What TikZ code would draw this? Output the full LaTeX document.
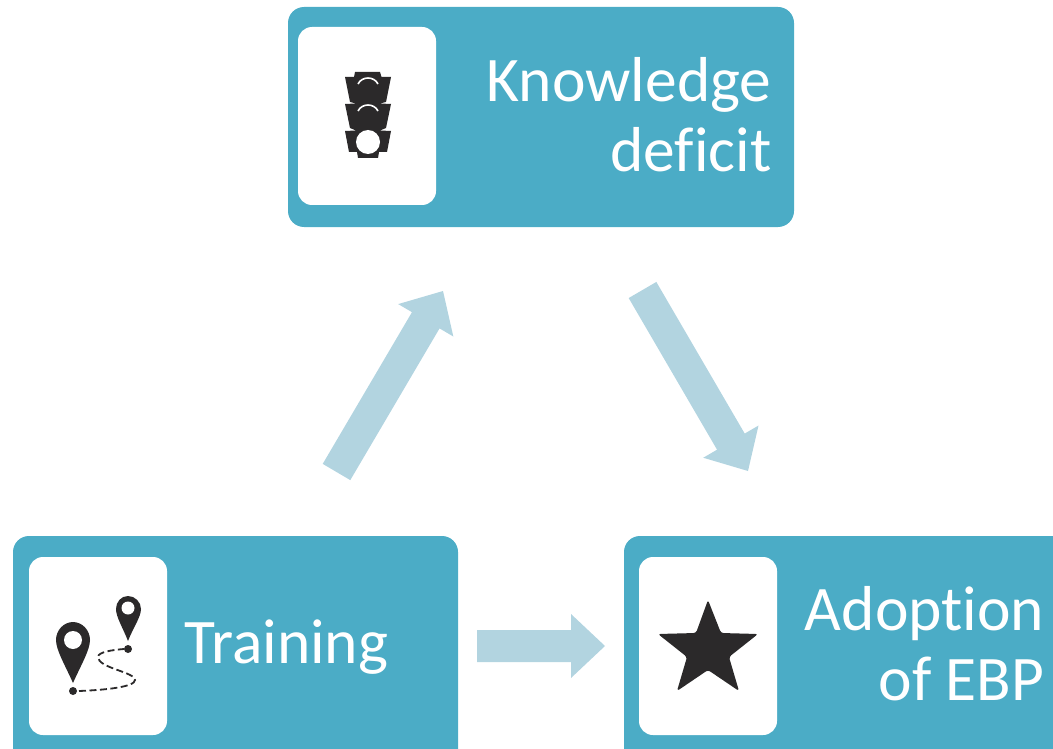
\documentclass[tikz,border=0pt]{standalone}
\usepackage{fontspec}
\setmainfont[Ligatures=NoCommon]{Carlito}
\usetikzlibrary{calc}
\definecolor{teal}{HTML}{4BACC6}
\definecolor{pale}{HTML}{B2D4E0}
\definecolor{ink}{HTML}{2B292A}
\tikzset{
  card/.style={fill=teal,rounded corners=16pt,draw=none},
  tile/.style={fill=white,rounded corners=14pt,draw=none},
  label/.style={text=white,font=\fontsize{63.5}{70}\selectfont,inner sep=0pt,align=right},
  icon/.style={fill=ink,draw=none},
  hole/.style={fill=white,draw=none},
}
\newcommand{\blockarrow}[2]{%
  \fill[pale] ($(#1)!16pt!90:(#2)$) -- ($(#1)!16pt!-90:(#2)$)
    -- ($($(#2)!34pt!(#1)$)!16pt!90:(#1)$)
    -- ($($(#2)!34pt!(#1)$)!32pt!90:(#1)$)
    -- (#2)
    -- ($($(#2)!34pt!(#1)$)!32pt!-90:(#1)$)
    -- ($($(#2)!34pt!(#1)$)!16pt!-90:(#1)$) -- cycle;}
\begin{document}
\begin{tikzpicture}[x=1pt,y=-1pt]
\useasboundingbox (0,0) rectangle (1053,749);
\clip (0,0) rectangle (1053,749);
% cards
\fill[card] (288,7) rectangle (794,227);
\fill[card] (13,536) rectangle (458,770);
\fill[card] (624,536) rectangle (1090,770);
\fill[tile] (298,27) rectangle (436,205);
\fill[tile] (29,557) rectangle (167,735);
\fill[tile] (639,557) rectangle (777,735);
% labels
\node[label,anchor=east] (kd) at (771.5,115) {Knowledge\\deficit};
\node[label,anchor=west] (tr) at (184,647.5) {Training};
\node[label,anchor=east] (ad) at (1044.5,644) {Adoption\\of EBP};
% arrows
\coordinate (a1) at (336.5,472); \coordinate (b1) at (443,291);
\coordinate (a2) at (642.5,290); \coordinate (b2) at (748,471);
\coordinate (a3) at (477,646);   \coordinate (b3) at (605,646);
\blockarrow{a1}{b1}
\blockarrow{a2}{b2}
\blockarrow{a3}{b3}
% traffic light
\fill[icon] (355,72) -- (380,72) -- (381.5,77) -- (391,77) -- (386,102) -- (380,103.5) -- (391,104) -- (386,128) -- (380,130.5) -- (391,131) -- (387,152) -- (379,152) -- (378,158) -- (358,158) -- (357,152) -- (349,152) -- (345,131) -- (356,130.5) -- (350,128) -- (345,104) -- (356,103.5) -- (350,102) -- (345,77) -- (354,77) -- cycle;
\fill[hole] (368,142) circle (12);
\draw[white,line width=1.6pt] (358,84) .. controls (362,76) and (374,76) .. (378,84);
\draw[white,line width=1.6pt] (358,111) .. controls (362,103) and (374,103) .. (378,111);
% pins
\fill[icon] (73,683) .. controls (65,665) and (56,650) .. (56,640) .. controls (56,630) and (64,622) .. (73,622) .. controls (82,622) and (90,630) .. (90,640) .. controls (90,650) and (81,665) .. (73,683) -- cycle;
\fill[hole] (73,640) circle (9);
\fill[icon] (128,641) .. controls (123,628) and (116,617) .. (116,609) .. controls (116,602) and (121,596) .. (128,596) .. controls (135,596) and (141,602) .. (141,609) .. controls (141,617) and (133,628) .. (128,641) -- cycle;
\fill[hole] (128,608) circle (6.5);
\fill[icon] (73,691) circle (4);
\fill[icon] (128,649) circle (4);
\draw[ink,line width=1.8pt,dash pattern=on 7pt off 3.5pt] (79,691) .. controls (105,690) and (135,687) .. (135,680) .. controls (135,672) and (98,668) .. (98,657) .. controls (98,652) and (112,650) .. (124,649);
% star
\fill[icon,rounded corners=2.5pt] (708,600) -- (721,633) -- (758,634) -- (729,657) -- (739,691) -- (708,670) -- (677,691) -- (687,657) -- (658,634) -- (696,633) -- cycle;
\end{tikzpicture}
\end{document}
